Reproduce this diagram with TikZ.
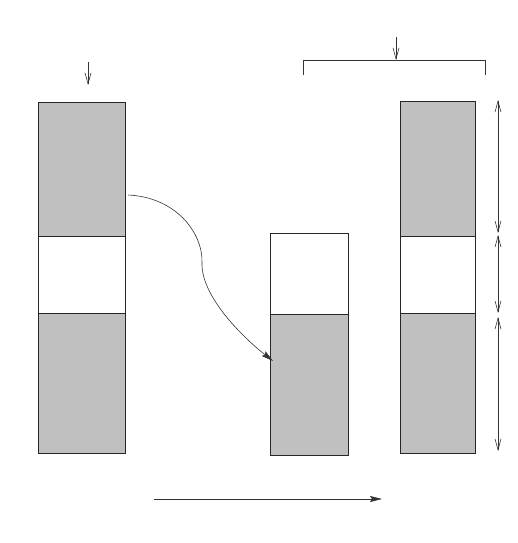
\documentclass[tikz,border=0pt]{standalone}
\usetikzlibrary{arrows.meta}
\definecolor{segfill}{RGB}{192,192,192}
\begin{document}
\begin{tikzpicture}[x=1pt,y=-1pt,
  seg/.style={draw=black!85,line width=0.7pt,inner sep=0pt,outer sep=0pt,anchor=north west},
  full/.style={seg,fill=segfill},
  empty/.style={seg,fill=white},
  ln/.style={draw=black!80,line width=0.6pt},
  barb/.tip={Straight Barb[length=11pt,width=6pt]},
  dimarr/.style={ln,barb-barb},
  downarr/.style={ln,-barb},
  bigarr/.style={ln,-{Stealth[length=12pt,width=6pt,inset=2pt]}}]
\useasboundingbox (0,0) rectangle (517,543);
% left block
\node[full,minimum width=87pt,minimum height=134pt] (L1) at (38,102) {};
\node[empty,minimum width=87pt,minimum height=77pt] (L2) at (38,236) {};
\node[full,minimum width=87pt,minimum height=140pt] (L3) at (38,313) {};
% middle block
\node[empty,minimum width=78pt,minimum height=81pt] (M1) at (270,233) {};
\node[full,minimum width=78pt,minimum height=141pt] (M2) at (270,314) {};
% right block
\node[full,minimum width=75pt,minimum height=135pt] (R1) at (400,101) {};
\node[empty,minimum width=75pt,minimum height=77pt] (R2) at (400,236) {};
\node[full,minimum width=75pt,minimum height=140pt] (R3) at (400,313) {};
% coordinates
\coordinate (la0) at (88,62);
\coordinate (la1) at (88,85);
\coordinate (ba0) at (396,37);
\coordinate (bm) at (396,60);
\coordinate (bl) at (303,60);
\coordinate (br) at (485,60);
\coordinate (bl1) at (303,75);
\coordinate (br1) at (485,75);
\coordinate (d0) at (498,100);
\coordinate (d1) at (498,233);
\coordinate (d2) at (498,235);
\coordinate (d3) at (498,313);
\coordinate (d4) at (498,317);
\coordinate (d5) at (498,451);
\coordinate (cs) at (128,195);
\coordinate (ci) at (202,263);
\coordinate (ce) at (273,361);
\coordinate (h0) at (154,499);
\coordinate (h1) at (382,499);
% arrows
\draw[downarr] (la0) -- (la1);
\draw[downarr] (ba0) -- (bm);
\draw[ln] (bl1) -- (bl) -- (br) -- (br1);
\draw[dimarr] (d0) -- (d1);
\draw[dimarr] (d2) -- (d3);
\draw[dimarr] (d4) -- (d5);
\draw[ln,-{Stealth[length=12pt,width=6pt,inset=2pt]}] (cs) .. controls (175,197) and (203,232) .. (ci) .. controls (201,295) and (240,335) .. (ce);
\draw[bigarr] (h0) -- (h1);
\end{tikzpicture}
\end{document}
